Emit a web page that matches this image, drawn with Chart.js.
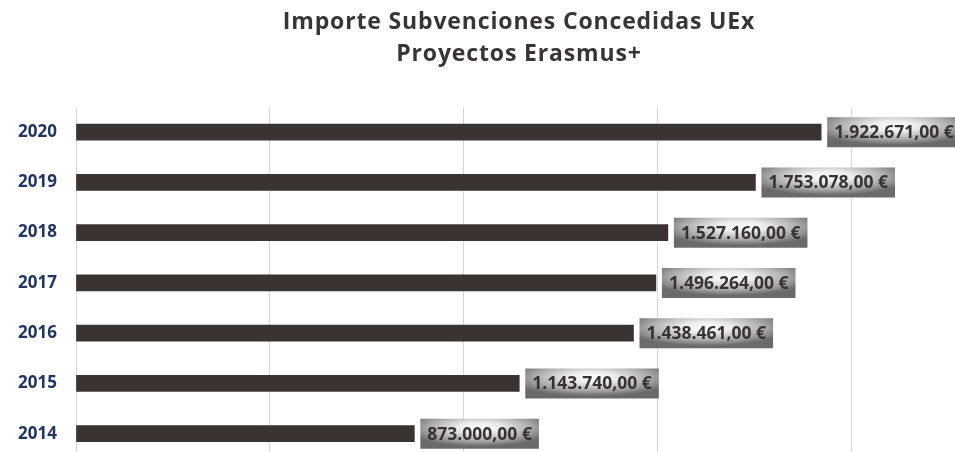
<!DOCTYPE html>
<html>
<head>
<meta charset="utf-8">
<script src="https://cdn.jsdelivr.net/npm/chart.js@4/dist/chart.umd.min.js"></script>
<style>
  html, body { margin: 0; padding: 0; background: #ffffff; overflow: hidden; }
  #wrap { position: relative; width: 955px; height: 452px; overflow: hidden; }
  #title { position: absolute; left: 0; top: 4px; width: 1038px; text-align: center;
           font-family: 'Open Sans', sans-serif; font-weight: 700; font-size: 23px;
           letter-spacing: 0.85px; line-height: 32px; color: #3a3434; }
  canvas { position: absolute; left: 0; top: 0; }
</style>
</head>
<body>
<div id="wrap">
  <canvas id="c" width="955" height="488"></canvas>
  <div id="title">Importe Subvenciones Concedidas UEx<br>Proyectos Erasmus+</div>
</div>
<script>
const years = ['2014', '2015', '2016', '2017', '2018', '2019', '2020'];
const amounts = [873000, 1143740, 1438461, 1496264, 1527160, 1753078, 1922671];
const gridValues = [0, 500000, 1000000, 1500000, 2000000];
const axisMax = 2268000;

function formatEuro(v) {
  const parts = v.toFixed(2).split('.');
  const intPart = parts[0].replace(/\B(?=(\d{3})+(?!\d))/g, '.');
  return intPart + ',' + parts[1] + ' €';
}

const labelBoxes = {
  id: 'labelBoxes',
  afterDatasetsDraw(chart) {
    const ctx = chart.ctx;
    const meta = chart.getDatasetMeta(0);
    ctx.save();
    ctx.font = "bold 17.5px 'Open Sans'";
    meta.data.forEach((bar, i) => {
      const txt = formatEuro(amounts[i]);
      const tw = ctx.measureText(txt).width;
      const w = tw + 14, h = 30;
      const x = bar.x + 6, y = bar.y - 15;
      ctx.save();
      ctx.beginPath();
      ctx.rect(x, y, w, h);
      ctx.clip();
      ctx.translate(x + w / 2, y + h * 0.3);
      ctx.scale(w / 2, h / 2);
      const g = ctx.createRadialGradient(0, 0, 0, 0, 0, 1.25);
      g.addColorStop(0, '#ffffff');
      g.addColorStop(0.3, '#ebe9e9');
      g.addColorStop(0.7, '#aaa7a7');
      g.addColorStop(1, '#6c6969');
      ctx.fillStyle = g;
      ctx.fillRect(-3, -3, 6, 6);
      ctx.restore();
      ctx.fillStyle = '#383333';
      ctx.textAlign = 'center';
      ctx.textBaseline = 'middle';
      ctx.fillText(txt, x + w / 2, bar.y + 1);
    });
    ctx.restore();
  }
};

new Chart(document.getElementById('c'), {
  type: 'bar',
  data: {
    labels: years,
    datasets: [{
      data: amounts,
      backgroundColor: '#3a3331',
      barThickness: 16,
      borderWidth: 0
    }]
  },
  options: {
    indexAxis: 'y',
    responsive: false,
    maintainAspectRatio: false,
    animation: false,
    layout: { padding: { top: 107, left: 0, right: 0, bottom: 0 } },
    plugins: {
      legend: { display: false },
      title: { display: false },
      tooltip: { enabled: false }
    },
    scales: {
      x: {
        min: 0,
        max: axisMax,
        ticks: { display: false },
        afterBuildTicks(scale) {
          scale.ticks = gridValues.map(v => ({ value: v }));
        },
        grid: { color: '#ddd3d3', lineWidth: 1, drawTicks: false },
        border: { display: false }
      },
      y: {
        reverse: true,
        grid: { display: false, drawTicks: false },
        border: { display: false },
        ticks: {
          color: '#203560',
          padding: 19,
          font: { family: 'Open Sans', weight: 'bold', size: 17 }
        },
        afterFit(scale) { scale.width = 76; }
      }
    }
  },
  plugins: [labelBoxes]
});
</script>
</body>
</html>
